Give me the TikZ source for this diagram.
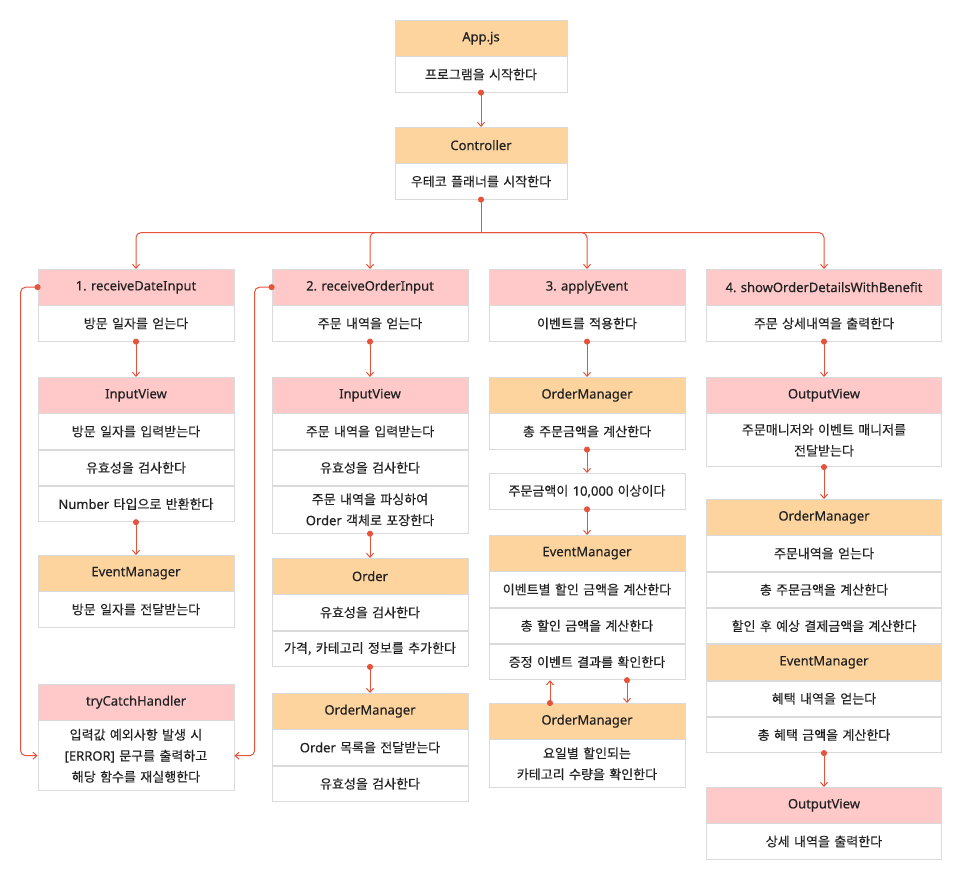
\documentclass[tikz,border=0pt]{standalone}
\usepackage{fontspec}
\setmainfont{Noto Sans CJK KR}[FakeBold=0.3]
\newfontfamily\latin{Noto Sans}[FakeBold=0.4]
\frenchspacing
\usetikzlibrary{positioning,arrows.meta}
\definecolor{peach}{HTML}{FDD49E}
\definecolor{rose}{HTML}{FFC9C9}
\definecolor{boxgray}{HTML}{DADADA}
\definecolor{flowred}{HTML}{E5533C}
\definecolor{ink}{HTML}{222222}

\begin{document}
\begin{tikzpicture}[x=1pt,y=-1pt]
  \tikzset{box/.style={draw=boxgray,line width=.8pt,inner sep=0pt,minimum height=35.5pt,align=center,text=ink,font=\fontsize{13}{21}\selectfont\frenchspacing}}
  \tikzset{hdr/.style={box,fill=peach,font=\fontsize{13}{21}\selectfont\latin\frenchspacing}}
  \tikzset{hdrp/.style={hdr,fill=rose}}
  \tikzset{row/.style={box,fill=white}}
  \tikzset{wa/.style={text width=196pt}}
  \tikzset{wb/.style={text width=235pt}}
  \tikzset{flow/.style={draw=flowred,line width=1pt,{Circle[length=6pt]}-{Straight Barb[length=4pt,width=7pt]},shorten <=-3pt}}
  \tikzset{stem/.style={flow,{Circle[length=6pt]}-}}
  \tikzset{branch/.style={draw=flowred,line width=1pt,-{Straight Barb[length=4pt,width=7pt]},rounded corners=5pt}}
  \useasboundingbox (0,0) rectangle (961,878);

  % top
  \node[hdr,text width=172pt,anchor=north] (hApp) at (481,20) {App.js};
  \node[row,text width=172pt,below=0pt of hApp] (rApp) {프로그램을 시작한다};
  \node[hdr,text width=172pt,anchor=north] (hCtrl) at (481,127) {Controller};
  \node[row,text width=172pt,below=0pt of hCtrl] (rCtrl) {우테코 플래너를 시작한다};

  % column 1
  \node[hdrp,wa,anchor=north] (hDate) at (136,269) {1. receiveDateInput};
  \node[row,wa,below=0pt of hDate] (rDate) {방문 일자를 얻는다};
  \node[hdrp,wa,anchor=north] (hIn1) at (136,377) {InputView};
  \node[row,wa,below=0pt of hIn1] (rIn1a) {방문 일자를 입력받는다};
  \node[row,wa,below=0pt of rIn1a] (rIn1b) {유효성을 검사한다};
  \node[row,wa,below=0pt of rIn1b] (rIn1c) {{\latin Number} 타입으로 반환한다};
  \node[hdr,wa,anchor=north] (hEv1) at (136,555) {EventManager};
  \node[row,wa,below=0pt of hEv1] (rEv1) {방문 일자를 전달받는다};
  \node[hdrp,wa,anchor=north] (hTry) at (136,684) {tryCatchHandler};
  \node[row,wa,minimum height=70pt,below=0pt of hTry] (rTry) {입력값 예외사항 발생 시\\{\latin [ERROR]} 문구를 출력하고\\해당 함수를 재실행한다};

  % column 2
  \node[hdrp,wa,anchor=north] (hOrd) at (370,269) {2. receiveOrderInput};
  \node[row,wa,below=0pt of hOrd] (rOrd) {주문 내역을 얻는다};
  \node[hdrp,wa,anchor=north] (hIn2) at (370,377) {InputView};
  \node[row,wa,below=0pt of hIn2] (rIn2a) {주문 내역을 입력받는다};
  \node[row,wa,below=0pt of rIn2a] (rIn2b) {유효성을 검사한다};
  \node[row,wa,minimum height=47pt,below=0pt of rIn2b] (rIn2c) {주문 내역을 파싱하여\\{\latin Order} 객체로 포장한다};
  \node[hdr,wa,anchor=north] (hOrder) at (370,558) {Order};
  \node[row,wa,below=0pt of hOrder] (rOrderA) {유효성을 검사한다};
  \node[row,wa,below=0pt of rOrderA] (rOrderB) {가격, 카테고리 정보를 추가한다};
  \node[hdr,wa,anchor=north] (hOm2) at (370,693) {OrderManager};
  \node[row,wa,below=0pt of hOm2] (rOm2a) {{\latin Order} 목록을 전달받는다};
  \node[row,wa,below=0pt of rOm2a] (rOm2b) {유효성을 검사한다};

  % column 3
  \node[hdrp,wa,anchor=north] (hApply) at (587,269) {3. applyEvent};
  \node[row,wa,below=0pt of hApply] (rApply) {이벤트를 적용한다};
  \node[hdr,wa,anchor=north] (hOm3) at (587,377) {OrderManager};
  \node[row,wa,below=0pt of hOm3] (rOm3) {총 주문금액을 계산한다};
  \node[row,wa,anchor=north] (rCond) at (587,473) {주문금액이 {\latin 10,000} 이상이다};
  \node[hdr,wa,anchor=north] (hEm3) at (587,535) {EventManager};
  \node[row,wa,below=0pt of hEm3] (rEm3a) {이벤트별 할인 금액을 계산한다};
  \node[row,wa,below=0pt of rEm3a] (rEm3b) {총 할인 금액을 계산한다};
  \node[row,wa,below=0pt of rEm3b] (rEm3c) {증정 이벤트 결과를 확인한다};
  \node[hdr,wa,anchor=north] (hOm3b) at (587,703) {OrderManager};
  \node[row,wa,minimum height=48pt,below=0pt of hOm3b] (rOm3b) {요일별 할인되는\\카테고리 수량을 확인한다};

  % column 4
  \node[hdrp,wb,anchor=north] (hShow) at (824,269) {4. showOrderDetailsWithBenefit};
  \node[row,wb,below=0pt of hShow] (rShow) {주문 상세내역을 출력한다};
  \node[hdrp,wb,anchor=north] (hOut1) at (824,377) {OutputView};
  \node[row,wb,minimum height=53pt,below=0pt of hOut1] (rOut1) {주문매니저와 이벤트 매니저를\\전달받는다};
  \node[hdr,wb,anchor=north] (hOm4) at (824,499) {OrderManager};
  \node[row,wb,below=0pt of hOm4] (rOm4a) {주문내역을 얻는다};
  \node[row,wb,below=0pt of rOm4a] (rOm4b) {총 주문금액을 계산한다};
  \node[row,wb,below=0pt of rOm4b] (rOm4c) {할인 후 예상 결제금액을 계산한다};
  \node[hdr,wb,below=0pt of rOm4c] (hEm4) {EventManager};
  \node[row,wb,below=0pt of hEm4] (rEm4a) {혜택 내역을 얻는다};
  \node[row,wb,below=0pt of rEm4a] (rEm4b) {총 혜택 금액을 계산한다};
  \node[hdrp,wb,anchor=north] (hOut2) at (824,787) {OutputView};
  \node[row,wb,below=0pt of hOut2] (rOut2) {상세 내역을 출력한다};

  % connectors
  \draw[flow] (rApp.south) -- (hCtrl.north);
  \coordinate (split) at ([yshift=-33pt]rCtrl.south);
  \draw[stem] (rCtrl.south) -- (split);
  \draw[branch] (split) -| (hDate.north);
  \draw[branch] (split) -| (hOrd.north);
  \draw[branch] (split) -| (hApply.north);
  \draw[branch] (split) -| (hShow.north);

  \draw[flow] (rDate.south) -- (hIn1.north);
  \draw[flow] (rIn1c.south) -- (hEv1.north);
  \draw[flow,rounded corners=5pt] (hDate.west) -- ++(-17,0) |- (rTry.west);

  \draw[flow] (rOrd.south) -- (hIn2.north);
  \draw[flow] (rIn2c.south) -- (hOrder.north);
  \draw[flow] (rOrderB.south) -- (hOm2.north);
  \draw[flow,rounded corners=5pt] (hOrd.west) -- ++(-17,0) |- (rTry.east);

  \draw[flow] (rApply.south) -- (hOm3.north);
  \draw[flow] (rOm3.south) -- (rCond.north);
  \draw[flow] (rCond.south) -- (hEm3.north);
  \draw[flow] ([xshift=-37pt]hOm3b.north) -- ([xshift=-37pt]rEm3c.south);
  \draw[flow] ([xshift=40pt]rEm3c.south) -- ([xshift=40pt]hOm3b.north);

  \draw[flow] (rShow.south) -- (hOut1.north);
  \draw[flow] (rOut1.south) -- (hOm4.north);
  \draw[flow] (rEm4b.south) -- (hOut2.north);
\end{tikzpicture}
\end{document}
